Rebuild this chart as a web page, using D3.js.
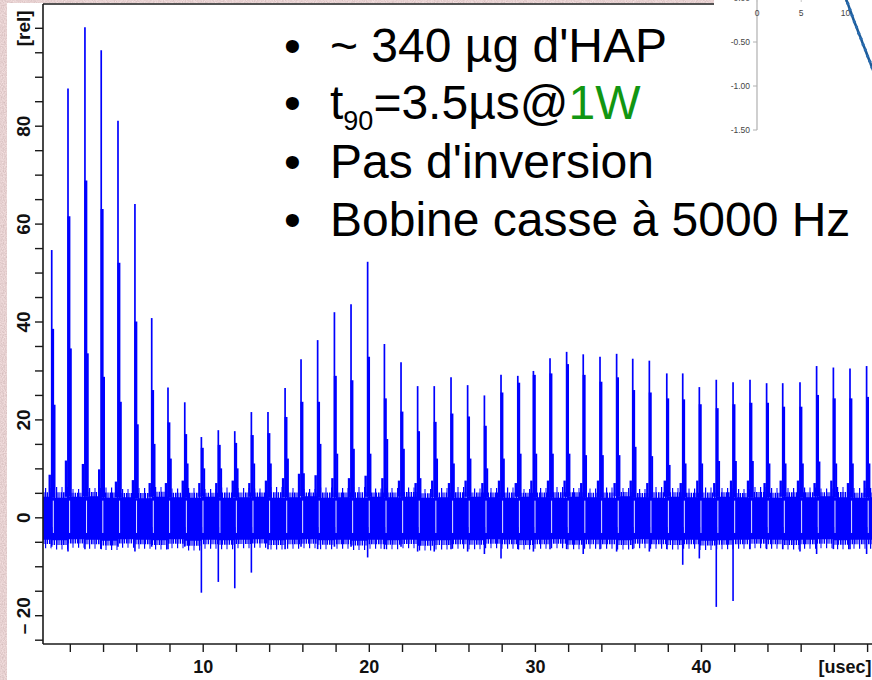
<!DOCTYPE html>
<html>
<head>
<meta charset="utf-8">
<script src="https://cdn.jsdelivr.net/npm/d3@7"></script>
<style>
  body { margin: 0; background: #fff; }
  svg { display: block; }
</style>
</head>
<body>
<svg id="chart" width="872" height="680"></svg>
<script>
// ---- pulse train: one echo per microsecond ----
const pulseTimes = [0.91, 1.89, 2.91, 3.89, 4.90, 5.92, 6.93, 7.91, 8.92, 9.92,
  10.94, 11.93, 12.93, 13.93, 14.96, 15.92, 16.92, 17.93, 18.93, 19.93,
  20.94, 21.94, 22.94, 23.94, 24.95, 25.95, 26.96, 27.96, 28.97, 29.91,
  30.91, 31.91, 32.91, 33.92, 34.92, 35.89, 36.89, 37.94, 38.90, 39.90,
  40.92, 41.93, 42.95, 43.95, 44.92, 45.96, 46.96, 47.97, 48.97, 49.97];
// peak of each echo
const peakValues = [54.6, 87.6, 100.1, 95.4, 81.0, 64.0, 40.7, 26.5, 23.5, 16.4,
  17.8, 17.6, 21.5, 21.5, 26.4, 32.3, 36.2, 41.9, 43.5, 52.2,
  35.4, 31.7, 26.8, 26.8, 28.6, 27.0, 24.9, 29.1, 28.9, 29.9,
  32.5, 33.8, 33.3, 32.8, 33.4, 32.4, 32.0, 29.4, 29.4, 26.6,
  28.1, 27.6, 28.1, 27.4, 27.4, 27.6, 30.9, 30.6, 30.4, 30.9];
// level of the broad part of each echo
const midValues = [38.5, 61.5, 68.8, 63.0, 52.0, 40.0, 26.0, 19.4, 17.0, 14.2,
  14.8, 15.2, 16.8, 17.2, 20.5, 23.6, 23.6, 28.9, 28.0, 32.8,
  24.3, 21.6, 17.6, 19.5, 21.2, 20.6, 18.7, 25.5, 27.5, 29.1,
  29.4, 31.3, 29.1, 27.7, 28.6, 26.0, 25.5, 24.3, 24.1, 23.1,
  22.3, 23.1, 23.4, 23.4, 22.6, 22.6, 25.0, 24.3, 24.3, 24.6];
// tail just after each echo
const tailValues = [23.0, 34.5, 33.5, 28.7, 23.6, 19.0, 15.0, 12.0, 11.0, 10.0,
  10.0, 10.0, 11.0, 11.0, 12.0, 9.0, 15.0, 13.0, 14.0, 13.0,
  16.0, 14.0, 8.0, 12.0, 11.0, 12.0, 10.0, 12.0, 13.0, 13.0,
  13.0, 13.0, 12.7, 12.7, 12.7, 14.4, 12.5, 10.7, 11.0, 11.0,
  11.5, 11.5, 11.5, 11.0, 11.0, 11.0, 11.4, 11.0, 11.0, 11.0];
// small rise just before each echo
const leadValues = [8.7, 11.6, 10.9, 9.8, 7.3, 7.6, 7.0, 7.0, 7.5, 7.0,
  7.0, 7.5, 7.0, 7.5, 8.0, 8.9, 8.6, 8.0, 8.0, 8.5,
  8.0, 7.5, 7.0, 7.5, 7.0, 7.5, 7.0, 7.5, 7.0, 7.5,
  7.5, 7.5, 7.0, 7.5, 7.0, 7.5, 7.0, 7.5, 7.0, 7.5,
  7.0, 7.5, 7.5, 7.0, 7.5, 7.5, 7.0, 7.5, 7.0, 7.5];
// negative excursion at each echo
const dipValues = [-6.0, -7.0, -6.5, -6.5, -6.0, -7.0, -6.0, -6.5, -6.0, -15.4,
  -13.2, -14.5, -11.3, -6.5, -6.5, -6.0, -6.5, -6.0, -6.0, -8.2,
  -6.5, -6.0, -7.0, -7.0, -6.5, -7.0, -7.5, -8.4, -6.5, -7.0,
  -6.5, -6.5, -7.5, -6.5, -7.0, -6.5, -7.0, -6.5, -9.7, -8.4,
  -18.3, -17.1, -6.5, -6.5, -6.5, -7.0, -7.5, -6.5, -6.5, -7.5];
// noise floor between echoes (first entry: before the first echo):
// dense core and outer extremes of the noise
const bandHigh = [4.2, 4.0, 4.2, 4.3, 4.0, 4.1, 3.9, 4.2, 4.1, 4.0,
  4.2, 4.0, 4.1, 4.2, 4.0, 4.1, 4.3, 4.0, 4.1, 4.0,
  4.2, 4.1, 4.2, 4.0, 4.1, 4.0, 4.2, 4.1, 4.0, 4.2,
  4.1, 4.0, 4.2, 4.1, 4.0, 4.3, 4.1, 4.0, 4.2, 4.1,
  4.0, 4.2, 4.1, 4.1, 4.0, 4.2, 4.1, 4.3, 4.1, 4.0, 4.1];
const bandLow = [-4.6, -4.7, -4.5, -4.6, -4.8, -4.5, -4.6, -4.7, -4.5, -4.8,
  -4.6, -4.7, -4.6, -4.5, -4.7, -4.6, -4.5, -4.7, -4.6, -4.8,
  -4.6, -4.7, -4.6, -4.8, -4.7, -4.6, -4.7, -4.5, -4.6, -4.7,
  -4.6, -4.5, -4.7, -4.6, -4.6, -4.7, -4.5, -4.6, -4.7, -4.6,
  -4.8, -4.7, -4.6, -4.5, -4.6, -4.7, -4.6, -4.5, -4.7, -4.6, -4.6];
const fringeHigh = [6.0, 6.2, 5.8, 6.0, 6.1, 5.8, 6.0, 6.2, 5.9, 6.0,
  5.8, 6.1, 6.0, 5.9, 6.2, 6.0, 5.8, 6.1, 6.0, 6.2,
  5.9, 6.0, 6.1, 5.8, 6.0, 6.2, 5.9, 6.0, 6.1, 5.8,
  6.0, 6.2, 6.0, 5.9, 6.1, 6.0, 5.8, 6.2, 6.0, 5.9,
  6.1, 6.0, 5.8, 6.2, 6.0, 6.0, 6.1, 5.9, 6.2, 6.0, 6.0];
const fringeLow = [-6.3, -6.6, -6.2, -6.4, -6.7, -6.2, -6.4, -6.6, -6.3, -6.8,
  -6.4, -6.5, -6.3, -6.2, -6.6, -6.4, -6.3, -6.5, -6.4, -6.7,
  -6.4, -6.5, -6.3, -6.8, -6.6, -6.4, -6.5, -6.3, -6.4, -6.6,
  -6.4, -6.3, -6.5, -6.4, -6.4, -6.6, -6.3, -6.4, -6.6, -6.4,
  -6.7, -6.5, -6.4, -6.3, -6.4, -6.6, -6.4, -6.3, -6.5, -6.4, -6.4];

// ---- axes ----
const xTickValues = [2, 4, 6, 8, 10, 12, 14, 16, 18, 20, 22, 24, 26, 28, 30,
  32, 34, 36, 38, 40, 42, 44, 46, 48, 50];
const xTickLabels = { 10: "10", 20: "20", 30: "30", 40: "40", 50: "[usec]" };
const yTickValues = [-25, -20, -15, -10, -5, 0, 5, 10, 15, 20, 25, 30, 35, 40,
  45, 50, 55, 60, 65, 70, 75, 80, 85, 90, 95, 100];
const yTickLabels = { "-20": "– 20", 0: "0", 20: "20", 40: "40", 60: "60", 80: "80", 100: "[rel]" };

// ---- inset: nutation curve ----
const insetT = [9.5, 9.75, 10.0, 10.25, 10.5, 10.75, 11.0, 11.25, 11.5, 11.75,
  12.0, 12.25, 12.5, 12.75, 13.0, 13.25];
const insetV = [0.12, 0.06, 0.0, -0.06, -0.13, -0.20, -0.27, -0.33, -0.40, -0.46,
  -0.53, -0.59, -0.66, -0.72, -0.79, -0.85];
const insetXTicks = [0, 5, 10];
const insetYTicks = [0, -0.5, -1.0, -1.5];

// ---- notes ----
const notes = ["~ 340 µg d'HAP", null, "Pas d'inversion", "Bobine casse à 5000 Hz"];

const svg = d3.select("#chart");
const W = 872, H = 680;
const plot = { left: 43, right: 872, top: 4, bottom: 644 };
const blue = "#0000ff";

const defs = svg.append("defs");

// textured margin
const flt = defs.append("filter").attr("id", "grain")
  .attr("x", 0).attr("y", 0).attr("width", 1).attr("height", 1);
flt.append("feTurbulence").attr("type", "fractalNoise")
  .attr("baseFrequency", 0.9).attr("numOctaves", 2).attr("seed", 3);
flt.append("feColorMatrix").attr("type", "matrix")
  .attr("values", "0.35 0 0 0 0.62  0.35 0 0 0 0.46  0.35 0 0 0 0.46  0 0 0 0 1");

// comb fills that give the ragged edge of the noise floor
const comb = (id, w, bars) => {
  const p = defs.append("pattern").attr("id", id).attr("patternUnits", "userSpaceOnUse")
    .attr("width", w).attr("height", 40);
  bars.forEach(([bx, bw]) => p.append("rect").attr("x", bx).attr("y", 0)
    .attr("width", bw).attr("height", 40).attr("fill", blue));
};
comb("combInner", 7, [[0, 1.6], [2.4, 1.2], [4.6, 1.5]]);
comb("combOuter", 11, [[1, 1.2], [6.5, 1.0]]);

svg.append("rect").attr("width", W).attr("height", H).attr("fill", "#fff");
svg.append("rect").attr("x", 0).attr("y", 0).attr("width", 7).attr("height", H)
  .attr("filter", "url(#grain)");
svg.append("rect").attr("x", 0).attr("y", 0).attr("width", 714).attr("height", 3)
  .attr("filter", "url(#grain)");

const x = d3.scaleLinear().domain([0.385, 50.295]).range([plot.left, plot.right]);
const y = d3.scaleLinear().domain([-25.88, 104.86]).range([plot.bottom, plot.top]);

defs.append("clipPath").attr("id", "plotClip").append("rect")
  .attr("x", plot.left).attr("y", plot.top)
  .attr("width", plot.right - plot.left).attr("height", plot.bottom - plot.top);

const g = svg.append("g").attr("clip-path", "url(#plotClip)");

// noise floor: sparse outer extremes, denser middle, solid core
const edges = [x.domain()[0], ...pulseTimes, x.domain()[1]];
const pick = (arr, i) => arr[Math.min(i, arr.length - 1)];
const bandData = edges.map((t, i) => ({
  t, hi: pick(bandHigh, i), lo: pick(bandLow, i), fhi: pick(fringeHigh, i), flo: pick(fringeLow, i)
}));
const bandArea = (lo, hi) => d3.area().curve(d3.curveStepAfter)
  .x(d => x(d.t)).y0(d => y(lo(d))).y1(d => y(hi(d)));
g.append("path").datum(bandData).attr("fill", "url(#combOuter)")
  .attr("d", bandArea(d => d.flo, d => d.fhi));
g.append("path").datum(bandData).attr("fill", "url(#combInner)")
  .attr("d", bandArea(d => (d.lo + d.flo) / 2, d => (d.hi + d.fhi) / 2));
g.append("path").datum(bandData).attr("fill", blue)
  .attr("d", bandArea(d => d.lo, d => d.hi));

// echoes
const echoes = pulseTimes.map((t, i) => ({
  t, peak: peakValues[i], mid: midValues[i], tail: tailValues[i],
  lead: leadValues[i], dip: dipValues[i], top: bandHigh[i + 1]
}));
const eg = g.selectAll("g.echo").data(echoes).enter().append("g").attr("class", "echo");
const seg = (sel, dx, y0, y1, w, col) => sel.append("line")
  .attr("x1", d => x(d.t) + dx).attr("x2", d => x(d.t) + dx)
  .attr("y1", y0).attr("y2", y1)
  .attr("stroke", col || blue).attr("stroke-width", w);

seg(eg, -2.0, d => y(d.top), d => y(d.lead), 2.4);
seg(eg, 0.9, d => y(d.top), d => y(d.mid), 3.0);
seg(eg, 2.8, d => y(d.top), d => y(d.tail), 2.0);
seg(eg, 0, d => y(d.top), d => y(d.peak), 1.7);
seg(eg, 1.6, d => y(3.4), d => y(-3.2), 1.0, "#e2e2ff");
seg(eg, 0, d => y(-2), d => y(d.dip), 1.6);

// frame
svg.append("line").attr("x1", plot.left).attr("x2", plot.right)
  .attr("y1", plot.top).attr("y2", plot.top)
  .attr("stroke", "#1a1a1a").attr("stroke-width", 1.6);

const yAxis = svg.append("g").attr("transform", `translate(${plot.left},0)`)
  .call(d3.axisLeft(y).tickValues(yTickValues).tickSize(8).tickPadding(0)
    .tickFormat(d => yTickLabels[d] || ""));
const xAxis = svg.append("g").attr("transform", `translate(0,${plot.bottom})`)
  .call(d3.axisBottom(x).tickValues(xTickValues).tickSize(8)
    .tickFormat(d => xTickLabels[d] || ""));

[yAxis, xAxis].forEach(a => {
  a.select(".domain").attr("stroke", "#1a1a1a").attr("stroke-width", 1.6);
  a.selectAll(".tick line").attr("stroke", "#1a1a1a").attr("stroke-width", 1.4);
  a.selectAll("text").attr("fill", "#111")
    .attr("font-family", "'Liberation Sans', Arial, sans-serif")
    .attr("font-weight", "bold");
});
xAxis.select(".domain").attr("d", `M${plot.left},0H${plot.right}`);
yAxis.select(".domain").attr("d", `M0,${plot.top}V${plot.bottom}`);

yAxis.selectAll(".tick text")
  .attr("font-size", 19)
  .attr("x", null).attr("dy", null)
  .attr("text-anchor", "middle")
  .attr("transform", "translate(-13,0) rotate(-90)");
xAxis.selectAll(".tick text")
  .attr("font-size", 18).attr("y", 16).attr("dy", "0.71em");
xAxis.selectAll(".tick").filter(d => d === 50).select("text")
  .attr("text-anchor", "end").attr("x", 4);

// ---- inset panel ----
const inset = svg.append("g");
inset.append("rect").attr("x", 714).attr("y", 0).attr("width", W - 714).attr("height", 137)
  .attr("fill", "#fff");
const ix = d3.scaleLinear().domain([0, 13]).range([757, 872]);
const iy = d3.scaleLinear().domain([0, -1.5]).range([-2, 130]);
const ig = inset.append("g").attr("font-family", "'Liberation Sans', Arial, sans-serif")
  .attr("font-size", 8.5).attr("fill", "#444");
ig.append("line").attr("x1", ix(0)).attr("x2", ix(0)).attr("y1", iy(0)).attr("y2", iy(-1.5))
  .attr("stroke", "#b0b0b0").attr("stroke-width", 1.2);
ig.selectAll("line.yt").data(insetYTicks).enter().append("line").attr("class", "yt")
  .attr("x1", ix(0) - 4).attr("x2", ix(0)).attr("y1", d => iy(d)).attr("y2", d => iy(d))
  .attr("stroke", "#b0b0b0");
ig.selectAll("text.yl").data(insetYTicks).enter().append("text").attr("class", "yl")
  .attr("x", ix(0) - 7).attr("y", d => iy(d)).attr("dy", "0.35em").attr("text-anchor", "end")
  .text(d => d3.format(".2f")(d).replace("−", "-"));
ig.selectAll("line.xt").data(insetXTicks).enter().append("line").attr("class", "xt")
  .attr("x1", d => ix(d)).attr("x2", d => ix(d)).attr("y1", iy(0)).attr("y2", iy(0) + 4)
  .attr("stroke", "#c8c8c8");
ig.selectAll("text.xl").data(insetXTicks).enter().append("text").attr("class", "xl")
  .attr("x", d => ix(d)).attr("y", 15.5).attr("text-anchor", "middle").text(d => d);
defs.append("clipPath").attr("id", "insetClip").append("rect")
  .attr("x", 757).attr("y", 0).attr("width", W - 757).attr("height", 135);
const curve = inset.append("g").attr("clip-path", "url(#insetClip)");
const insetPts = insetT.map((t, i) => ({ t, v: insetV[i] }));
curve.append("path").datum(insetPts)
  .attr("fill", "none").attr("stroke", "#1d5c99").attr("stroke-width", 2.6)
  .attr("d", d3.line().curve(d3.curveMonotoneX).x(d => ix(d.t)).y(d => iy(d.v)));
curve.selectAll("circle").data(insetPts).enter().append("circle")
  .attr("cx", d => ix(d.t)).attr("cy", d => iy(d.v)).attr("r", 1.6)
  .attr("fill", "#2a6cb0");

// ---- notes ----
const tg = svg.append("g").attr("font-family", "'Liberation Sans', Arial, sans-serif")
  .attr("font-size", 48).attr("fill", "#000");
const baselines = [62, 119, 178, 236];
baselines.forEach((b, i) => {
  tg.append("text").attr("x", 284).attr("y", b).text("•");
  const t = tg.append("text").attr("x", 330).attr("y", b);
  if (notes[i]) {
    t.text(notes[i]);
  } else {
    t.append("tspan").text("t");
    t.append("tspan").attr("font-size", 27).attr("dy", 11).text("90");
    t.append("tspan").attr("dy", -11).text("=3.5µs@");
    t.append("tspan").attr("fill", "#129612").text("1W");
  }
});
</script>
</body>
</html>
